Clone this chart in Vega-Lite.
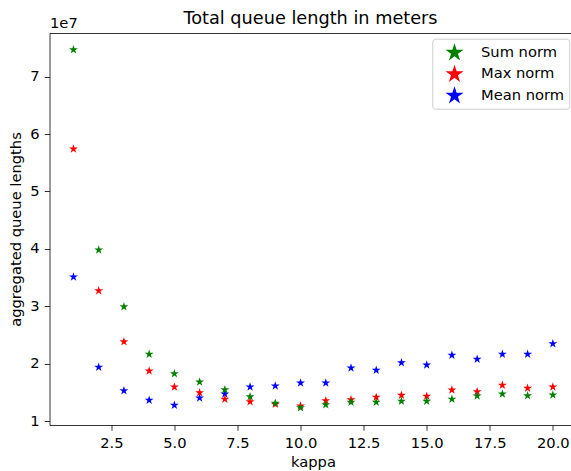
{
  "$schema": "https://vega.github.io/schema/vega-lite/v6.json",
  "autosize": "none",
  "width": 522,
  "height": 392,
  "padding": {"left": 49.5, "top": 33, "right": 0, "bottom": 46},
  "background": "white",
  "title": {"text": "Total queue length in meters", "anchor": "middle", "frame": "group", "fontSize": 17.7, "fontWeight": "normal", "font": "DejaVu Sans", "color": "#000", "baseline": "alphabetic", "offset": 0, "dy": 26.5, "dx": 0},
  "config": {
    "font": "DejaVu Sans",
    "view": {"stroke": null},
    "axis": {"grid": false, "labelFont": "DejaVu Sans", "titleFont": "DejaVu Sans", "labelFontSize": 14.7, "titleFontSize": 14.7, "titleFontWeight": "normal", "labelColor": "#000", "titleColor": "#000", "tickColor": "#000", "domainColor": "#000", "tickSize": 5.2, "tickWidth": 0.8, "domainWidth": 0.8, "labelPadding": 5.2}
  },
  "data": {"values": [
    {"kappa":1,"norm":"Mean norm","value":35120000},{"kappa":2,"norm":"Mean norm","value":19390000},{"kappa":3,"norm":"Mean norm","value":15310000},{"kappa":4,"norm":"Mean norm","value":13640000},{"kappa":5,"norm":"Mean norm","value":12770000},{"kappa":6,"norm":"Mean norm","value":14040000},{"kappa":7,"norm":"Mean norm","value":14740000},{"kappa":8,"norm":"Mean norm","value":15960000},{"kappa":9,"norm":"Mean norm","value":16130000},{"kappa":10,"norm":"Mean norm","value":16660000},{"kappa":11,"norm":"Mean norm","value":16660000},{"kappa":12,"norm":"Mean norm","value":19270000},{"kappa":13,"norm":"Mean norm","value":18870000},{"kappa":14,"norm":"Mean norm","value":20190000},{"kappa":15,"norm":"Mean norm","value":19790000},{"kappa":16,"norm":"Mean norm","value":21480000},{"kappa":17,"norm":"Mean norm","value":20780000},{"kappa":18,"norm":"Mean norm","value":21650000},{"kappa":19,"norm":"Mean norm","value":21650000},{"kappa":20,"norm":"Mean norm","value":23500000},
    {"kappa":1,"norm":"Max norm","value":57420000},{"kappa":2,"norm":"Max norm","value":32730000},{"kappa":3,"norm":"Max norm","value":23850000},{"kappa":4,"norm":"Max norm","value":18750000},{"kappa":5,"norm":"Max norm","value":15960000},{"kappa":6,"norm":"Max norm","value":14970000},{"kappa":7,"norm":"Max norm","value":13820000},{"kappa":8,"norm":"Max norm","value":13400000},{"kappa":9,"norm":"Max norm","value":12940000},{"kappa":10,"norm":"Max norm","value":12650000},{"kappa":11,"norm":"Max norm","value":13570000},{"kappa":12,"norm":"Max norm","value":13750000},{"kappa":13,"norm":"Max norm","value":14160000},{"kappa":14,"norm":"Max norm","value":14510000},{"kappa":15,"norm":"Max norm","value":14340000},{"kappa":16,"norm":"Max norm","value":15440000},{"kappa":17,"norm":"Max norm","value":15140000},{"kappa":18,"norm":"Max norm","value":16250000},{"kappa":19,"norm":"Max norm","value":15730000},{"kappa":20,"norm":"Max norm","value":15960000},
    {"kappa":1,"norm":"Sum norm","value":74670000},{"kappa":2,"norm":"Sum norm","value":39830000},{"kappa":3,"norm":"Sum norm","value":29950000},{"kappa":4,"norm":"Sum norm","value":21650000},{"kappa":5,"norm":"Sum norm","value":18280000},{"kappa":6,"norm":"Sum norm","value":16830000},{"kappa":7,"norm":"Sum norm","value":15490000},{"kappa":8,"norm":"Sum norm","value":14270000},{"kappa":9,"norm":"Sum norm","value":13120000},{"kappa":10,"norm":"Sum norm","value":12350000},{"kappa":11,"norm":"Sum norm","value":12870000},{"kappa":12,"norm":"Sum norm","value":13290000},{"kappa":13,"norm":"Sum norm","value":13290000},{"kappa":14,"norm":"Sum norm","value":13470000},{"kappa":15,"norm":"Sum norm","value":13470000},{"kappa":16,"norm":"Sum norm","value":13820000},{"kappa":17,"norm":"Sum norm","value":14390000},{"kappa":18,"norm":"Sum norm","value":14740000},{"kappa":19,"norm":"Sum norm","value":14440000},{"kappa":20,"norm":"Sum norm","value":14560000}
  ]},
  "resolve": {"axis": {"x": "independent", "y": "independent"}},
  "layer": [
    {
      "mark": {"type": "point", "filled": true, "opacity": 1, "size": 88, "shape": "M0,-1L0.225,-0.309L0.951,-0.309L0.363,0.118L0.588,0.809L0,0.382L-0.588,0.809L-0.363,0.118L-0.951,-0.309L-0.225,-0.309Z"},
      "encoding": {
        "x": {"field": "kappa", "type": "quantitative", "scale": {"domain": [0.05, 20.74], "nice": false, "zero": false}, "axis": {"title": "kappa", "values": [2.5, 5, 7.5, 10, 12.5, 15, 17.5, 20], "format": ".1f", "labelFontSize": 14.7, "titleFontSize": 14.7, "titlePadding": 4, "titleX": 263.5}},
        "y": {"field": "value", "type": "quantitative", "scale": {"domain": [9340000, 77590000], "nice": false, "zero": false}, "axis": {"title": "aggregated queue lengths", "values": [10000000, 20000000, 30000000, 40000000, 50000000, 60000000, 70000000], "labelExpr": "datum.value / 10000000", "labelFontSize": 14.7, "titleFontSize": 14.7, "titlePadding": 6}},
        "color": {"field": "norm", "type": "nominal", "scale": {"domain": ["Sum norm", "Max norm", "Mean norm"], "range": ["#008000", "#ff0000", "#0000ff"]},
          "legend": {"title": null, "orient": "none", "legendX": 382.8, "legendY": 5.7, "symbolType": "M0,-1L0.225,-0.309L0.951,-0.309L0.363,0.118L0.588,0.809L0,0.382L-0.588,0.809L-0.363,0.118L-0.951,-0.309L-0.225,-0.309Z", "symbolSize": 360, "symbolStrokeWidth": 0, "labelFontSize": 14.7, "labelFont": "DejaVu Sans", "labelColor": "#000", "labelOffset": 17, "padding": 4.5, "symbolOffset": 8.2, "rowPadding": 3.5, "strokeColor": "#cccccc", "fillColor": "rgba(255,255,255,0.8)", "cornerRadius": 3}}
      }
    },
    {
      "mark": {"type": "point", "opacity": 0},
      "encoding": {
        "x": {"field": "kappa", "type": "quantitative", "scale": {"domain": [0.05, 20.74], "nice": false, "zero": false}, "axis": {"orient": "top", "title": "1e7", "labels": false, "ticks": false, "titleAngle": 0, "titleAlign": "left", "titleBaseline": "alphabetic", "titleX": 0, "titleY": -5.7, "titleFontSize": 14.7}},
        "y": {"field": "value", "type": "quantitative", "scale": {"domain": [9340000, 77590000], "nice": false, "zero": false}, "axis": null}
      }
    }
  ]
}
